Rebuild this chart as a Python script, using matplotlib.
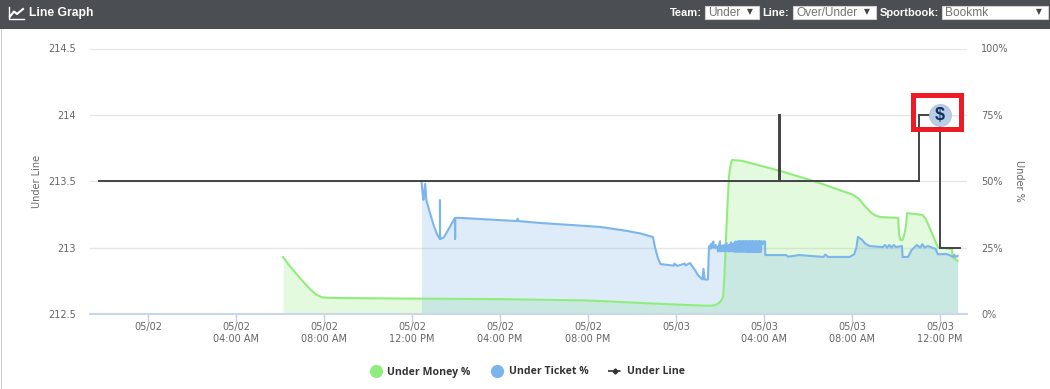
import matplotlib
matplotlib.use("Agg")
import matplotlib.pyplot as plt
from matplotlib.lines import Line2D
from matplotlib.patches import Rectangle
from matplotlib.transforms import Affine2D

W, H = 1050, 389

line_hours = [-2.23, 28.68, 28.68, 28.73, 28.73, 35.05, 35.05, 36.0, 36.0, 36.9]
line_values = [213.5, 213.5, 214.0, 214.0, 213.5, 213.5, 214.0, 214.0, 213.0, 213.0]

money_hours = [6.14, 6.45, 6.9, 7.36, 7.65, 7.9, 8.2, 8.73, 12.0, 16.0, 20.0, 22.8, 25.1, 25.55, 25.75, 25.9, 26.03, 26.14,
               26.2, 26.27, 26.34, 26.41, 26.48, 26.55, 27.0, 28.73, 30.4, 32.05, 32.3, 32.6, 32.9, 33.1, 33.3, 34.1, 34.14, 34.2,
               34.3, 34.38, 34.45, 34.5, 35.2, 35.35, 35.45, 35.9, 36.55, 36.57, 36.8]
money_pct = [21.4, 18.0, 13.6, 9.4, 7.3, 6.3, 6.1, 6.0, 5.8, 5.6, 5.1, 4.0, 3.2, 3.1, 3.3, 3.8, 4.8, 6.4,
             14.0, 27.9, 41.0, 52.0, 56.0, 58.0, 57.7, 53.9, 49.7, 44.9, 43.5, 40.5, 37.9, 37.0, 36.5, 36.2, 30.0, 27.9,
             27.9, 30.0, 33.0, 38.0, 37.3, 35.8, 34.0, 25.2, 24.4, 21.4, 20.0]

ticket_head_hours = [12.43, 12.5, 12.52, 12.6, 12.65, 12.8, 13.0, 13.14, 13.27, 13.27, 13.28, 13.45, 13.6, 13.77, 13.95, 13.96, 13.97,
                     14.18, 16.77, 16.8, 16.85, 17.8, 20.55, 21.77, 22.4, 22.95, 23.05, 23.18, 23.3, 23.6, 23.9, 23.93, 24.05,
                     24.4, 24.43, 24.64, 24.7, 24.86, 25.0, 25.2, 25.25, 25.3, 25.45]
ticket_head_pct = [50.0, 44.0, 43.0, 49.0, 43.0, 38.5, 33.0, 30.0, 28.2, 42.9, 28.2, 28.9, 31.0, 33.5, 36.2, 28.2, 36.2,
                   36.2, 35.0, 35.9, 35.0, 34.3, 32.8, 31.3, 30.3, 29.0, 25.0, 21.0, 18.8, 18.5, 18.2, 19.0, 18.1,
                   19.0, 18.3, 19.2, 18.4, 16.6, 14.6, 13.0, 17.0, 13.0, 13.0]
band_hours = [25.5, 25.6, 25.7, 25.8, 25.9, 26.0, 26.1, 26.2, 26.3, 26.4, 26.5, 26.6, 26.65, 26.7, 26.75, 26.8, 26.85, 26.9,
              26.95, 27.0, 27.05, 27.1, 27.15, 27.2, 27.25, 27.3, 27.35, 27.4, 27.45, 27.5, 27.55, 27.6, 27.65, 27.7, 27.75,
              27.8, 27.85, 27.9, 28.0, 28.05]
band_high = [25.5, 26.5, 27.3, 26.0, 25.5, 27.4, 25.8, 26.0, 26.7, 26.0, 27.0, 26.6, 26.2, 27.3, 27.2, 27.3, 27.4, 27.4,
             27.3, 27.4, 27.4, 27.3, 27.4, 27.4, 27.3, 27.4, 27.4, 27.3, 27.4, 27.4, 27.3, 27.4, 27.4, 27.3, 27.4,
             27.4, 27.3, 27.4, 27.4, 27.3]
band_low = [24.8, 24.6, 25.0, 24.8, 23.6, 23.6, 23.6, 23.6, 23.6, 23.6, 23.6, 23.6, 23.5, 23.5, 23.5, 23.5, 23.5, 23.5,
            23.5, 23.5, 23.5, 23.5, 23.5, 23.4, 23.4, 23.4, 23.4, 23.4, 23.4, 23.4, 23.4, 23.4, 23.4, 23.4, 23.4,
            23.4, 23.4, 26.4, 26.4, 26.4]
ticket_tail_hours = [28.06, 29.0, 29.1, 29.6, 30.7, 30.8, 30.9, 31.9, 32.1, 32.2, 32.27, 32.45, 32.6, 32.8, 33.4, 33.5, 33.6,
                     33.7, 33.8, 33.9, 34.0, 34.27, 34.3, 34.55, 34.7, 34.95, 35.1, 35.2, 35.3, 35.45, 35.8, 35.9,
                     36.3, 36.6, 36.65, 36.7, 36.8]
ticket_tail_pct = [22.2, 22.2, 21.6, 22.2, 21.5, 22.4, 21.5, 21.5, 22.5, 25.0, 29.0, 28.0, 26.5, 25.6, 25.2, 26.0, 25.0,
                   26.0, 25.0, 26.0, 25.2, 25.6, 21.5, 21.5, 24.0, 26.0, 25.0, 26.3, 25.0, 25.6, 24.5, 22.5,
                   22.6, 21.5, 22.3, 21.5, 21.9]

band_x = [h for h in band_hours for _ in (0, 1)]
band_y = [v for pair in zip(band_high, band_low) for v in pair]
ticket_hours = ticket_head_hours + band_x + ticket_tail_hours
ticket_pct = ticket_head_pct + band_y + ticket_tail_pct

tick_hours = [0, 4, 8, 12, 16, 20, 24, 28, 32, 36]
tick_labels = ["05/02", "05/02\n04:00 AM", "05/02\n08:00 AM", "05/02\n12:00 PM", "05/02\n04:00 PM",
               "05/02\n08:00 PM", "05/03", "05/03\n04:00 AM", "05/03\n08:00 AM", "05/03\n12:00 PM"]
left_ticks = [212.5, 213.0, 213.5, 214.0, 214.5]
left_labels = ["212.5", "213", "213.5", "214", "214.5"]
right_ticks = [0, 25, 50, 75, 100]
right_labels = ["0%", "25%", "50%", "75%", "100%"]

GREEN, BLUE, DARK, LABEL = "#90ed7d", "#7cb5ec", "#434348", "#666666"

fig = plt.figure(figsize=(W / 100, H / 100), dpi=100, facecolor="white")
px = Affine2D().scale(1 / W, -1 / H).translate(0, 1) + fig.transFigure

ax = fig.add_axes([90 / W, 1 - 314 / H, 877 / W, 265.5 / H])
axl = ax.twinx()

ax.set_xlim((90 - 148) / 22, (967 - 148) / 22)
ax.set_ylim(0, 100)
ax.set_facecolor("white")
for s in ax.spines.values():
    s.set_visible(False)
ax.spines["bottom"].set_visible(True)
ax.spines["bottom"].set_color("#ccd6eb")
ax.spines["bottom"].set_linewidth(1.5)
ax.set_axisbelow(True)
ax.yaxis.grid(True, color="#e6e6e6", lw=1.0)
ax.yaxis.tick_right()
ax.yaxis.set_label_position("right")
ax.set_yticks(right_ticks, right_labels)
ax.tick_params(axis="y", length=0, pad=10, labelsize=7, labelcolor=LABEL)
ax.set_xticks(tick_hours, tick_labels, linespacing=1.3)
ax.tick_params(axis="x", length=5.8, width=1, color="#c5d0e8", pad=0, labelsize=7, labelcolor=LABEL)
ax.set_ylabel("Under %", rotation=270, fontsize=7, color=LABEL, labelpad=11)

ax.fill_between(money_hours, money_pct, 0, color=GREEN, alpha=0.25, lw=0)
ax.plot(money_hours, money_pct, color=GREEN, lw=1.5, solid_joinstyle="round")
ax.fill_between(ticket_hours, ticket_pct, 0, color=BLUE, alpha=0.25, lw=0)
ax.plot(ticket_hours, ticket_pct, color=BLUE, lw=1.5, solid_joinstyle="round")

axl.set_ylim(212.5, 214.5)
for s in axl.spines.values():
    s.set_visible(False)
axl.yaxis.tick_left()
axl.yaxis.set_label_position("left")
axl.set_yticks(left_ticks, left_labels)
axl.tick_params(axis="y", length=0, pad=10, labelsize=7, labelcolor=LABEL)
axl.set_ylabel("Under Line", fontsize=7, color=LABEL, labelpad=4.2)
axl.plot(line_hours, line_values, color=DARK, lw=1.4, solid_joinstyle="miter")

# Sharp-money badge and highlight box on the 36 h / 214 point
axl.plot([36.0], [214.0], "o", ms=15.8, mfc="#b9cde8", mec="#a5bcdc", mew=0.5, zorder=5)
axl.text(36.0, 213.995, r"\$", ha="center", va="center", fontsize=13, fontweight="bold",
         color="#12305f", family="Liberation Sans", zorder=6)
fig.add_artist(Rectangle((912.5, 94.5), 48, 34.5, transform=px, fill=False, ec="#ed1c24", lw=3.6,
                         joinstyle="miter", zorder=7))

# Header bar
fig.add_artist(Rectangle((0, 0), W, 29, transform=px, fc="#4b4e52", ec="none", zorder=1))
fig.add_artist(Rectangle((0.5, 29), 1.4, H - 29, transform=px, fc="#cccccc", ec="none", zorder=1))
fig.add_artist(Line2D([8.5, 8.5, 24], [7.5, 19, 19], transform=px, color="white", lw=1.0, zorder=3))
fig.add_artist(Line2D([10, 14, 17, 23], [16.5, 11.5, 14, 9], transform=px, color="white", lw=1.5, zorder=3))


def head(x, s, **kw):
    fig.text(x / W, 1 - 13 / H, s, va="center", color="white", family="Liberation Sans", zorder=3, **kw)


head(29, "Line Graph", fontsize=8.7, fontweight="bold")
for x0, x1, label, lx, value in [(704.5, 758.5, "Team:", 669.5, "Under"),
                                 (792.5, 875.5, "Line:", 762.5, "Over/Under"),
                                 (941.5, 1047.5, "Sportbook:", 879.5, "Bookmk")]:
    head(lx, label, fontsize=8.0, fontweight="bold")
    fig.add_artist(Rectangle((x0, 6), x1 - x0, 13, transform=px, fc="white", ec="#cfcfcf", lw=0.8, zorder=2))
    fig.text((x0 + 4) / W, 1 - 13 / H, value, va="center", color="#757575", fontsize=8.6,
             family="Liberation Sans", zorder=3)
    fig.text((x1 - 9) / W, 1 - 12 / H, "\u25bc", va="center", ha="center", color="#444444",
             fontsize=5.5, zorder=3)

# Legend
handles = [Line2D([], [], ls="none", marker="o", ms=8.5, color=GREEN),
           Line2D([], [], ls="none", marker="o", ms=8.5, color=BLUE),
           Line2D([], [], color="#333333", lw=1.2, ls=(0, (3, 1.5)), marker="D", ms=2.6)]
fig.legend(handles, ["Under Money %", "Under Ticket %", "Under Line"], loc="center",
           bbox_to_anchor=(526.5 / W, 1 - 372 / H), ncol=3, frameon=False, handlelength=1.35,
           handletextpad=0.45, columnspacing=1.8,
           prop={"family": "Open Sans", "weight": "bold", "size": 7.6}, labelcolor="#333333")

fig.savefig("out.png", dpi=100)
